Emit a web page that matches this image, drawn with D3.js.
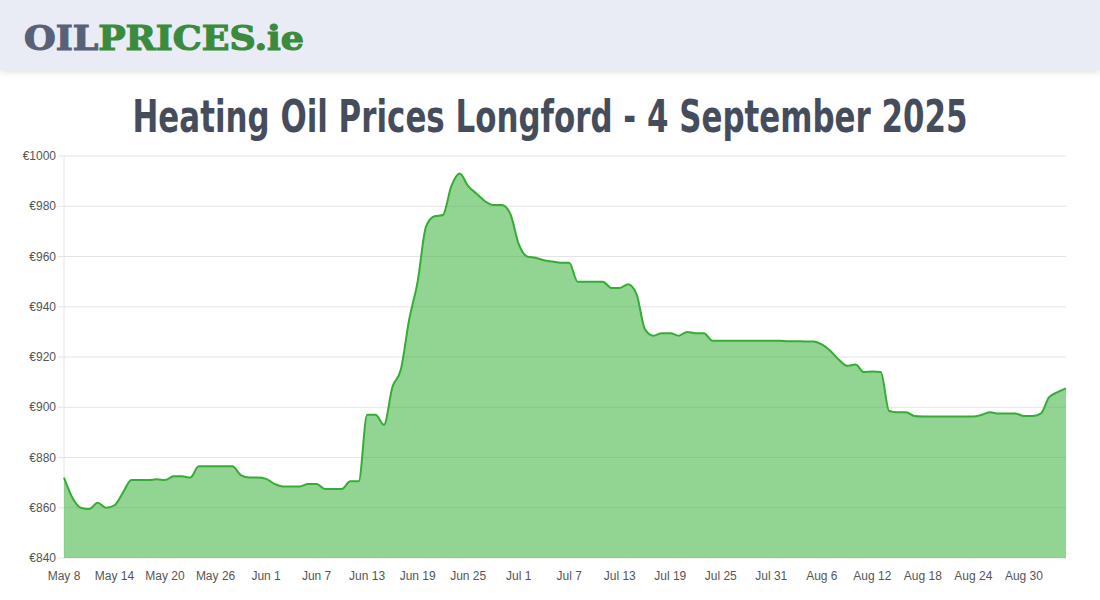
<!DOCTYPE html>
<html><head><meta charset="utf-8">
<script src="https://cdn.jsdelivr.net/npm/d3@7"></script>
<style>
body{margin:0;background:#fff;font-family:Arial,"Liberation Sans",sans-serif;}
</style></head><body>
<svg id="c" width="1100" height="600"></svg>
<script>
// daily prices from May 8 2025
var startDate = new Date(2025, 4, 8);
var prices = [872,864,860,859.5,862,860,861,866,871,871,871,871.3,871,872.5,872.5,872,876.5,876.5,876.5,876.5,
  876.5,873,872,872,871.5,869.5,868.5,868.5,868.5,869.5,869.5,867.5,867.5,867.5,870.5,870.5,
  897,897,893,908,915,935,950,972,976,976.5,988,993,988,985,982,980.5,980.5,977,965,960,
  959.5,958.5,958,957.5,957.5,950,950,950,950,947.5,947.5,949,945,931,928.5,929.5,929.5,928.5,930,929.5,
  929.5,926.5,926.5,926.5,926.5,926.5,926.5,926.5,926.5,926.5,926.3,926.3,926.2,926.2,925,922.5,919,916.5,
  917,914,914.2,914,898.5,898,898,896.5,896.3,896.3,896.3,896.3,896.3,896.3,896.3,897,898,897.5,897.5,
  897.5,896.5,896.5,897.5,904,906,907.5];
var yTicks = [840,860,880,900,920,940,960,980,1000];
var xTickEvery = 6;

var svg = d3.select("#c");
svg.append("defs").html('<filter id="sh" x="-5%" y="-50%" width="110%" height="200%"><feDropShadow dx="0" dy="2" stdDeviation="3" flood-color="#000" flood-opacity="0.12"/></filter>');
svg.append("rect").attr("width",1100).attr("height",70).attr("fill","#e9ecf4").attr("filter","url(#sh)");
var logo = svg.append("text").attr("x",24).attr("y",50)
  .style("font-family","'DejaVu Serif'").style("font-weight","bold").style("font-size","34px")
  .attr("stroke-width",1.2).attr("textLength",280).attr("lengthAdjust","spacingAndGlyphs");
logo.append("tspan").attr("fill","#586178").attr("stroke","#586178").text("OIL");
logo.append("tspan").attr("fill","#3a8b3e").attr("stroke","#3a8b3e").text("PRICES.ie");

svg.append("text").attr("x",550).attr("y",132).attr("text-anchor","middle")
  .attr("fill","#454d5d").style("font-family","'DejaVu Sans', sans-serif").style("font-weight","bold")
  .style("font-size","44px").attr("textLength",835).attr("lengthAdjust","spacingAndGlyphs")
  .text("Heating Oil Prices Longford - 4 September 2025");

var x = d3.scaleLinear().domain([0, prices.length-1]).range([64, 1066]);
var y = d3.scaleLinear().domain([840, 1000]).range([558, 156]);

svg.append("g").selectAll("line").data(yTicks).join("line")
  .attr("x1",58).attr("x2",1066).attr("y1",y).attr("y2",y).attr("stroke","#e4e4e4");
svg.append("line").attr("x1",64).attr("x2",64).attr("y1",156).attr("y2",558).attr("stroke","#e4e4e4");
svg.append("g").selectAll("text").data(yTicks).join("text")
  .attr("x",56).attr("y",d=>y(d)+4).attr("text-anchor","end").attr("fill","#555").style("font-size","12px")
  .text(d=>"€"+d);

var fmt = d3.timeFormat("%b %-d");
var xt = d3.range(0, prices.length, xTickEvery);
svg.append("g").selectAll("text").data(xt).join("text")
  .attr("x",x).attr("y",580).attr("text-anchor","middle").attr("fill","#555").style("font-size","12px")
  .text(d=>fmt(d3.timeDay.offset(startDate,d)));

var area = d3.area().x((d,i)=>x(i)).y0(y(840)).y1(d=>y(d)).curve(d3.curveMonotoneX);
var line = d3.line().x((d,i)=>x(i)).y(d=>y(d)).curve(d3.curveMonotoneX);
svg.append("path").datum(prices).attr("d",area).attr("fill","rgba(60,180,60,0.56)");
svg.append("path").datum(prices).attr("d",line).attr("fill","none").attr("stroke","#36ab36").attr("stroke-width",2);
</script></body></html>
